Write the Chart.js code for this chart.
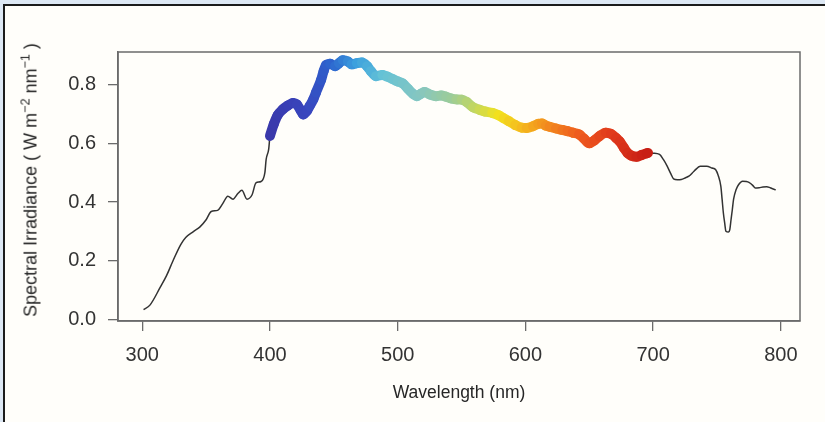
<!DOCTYPE html>
<html lang="en">
<head>
  <meta charset="UTF-8">
  <title>Spectral Irradiance</title>
  <script src="https://cdn.jsdelivr.net/npm/chart.js"></script>
  <style>
    html, body { margin: 0; overflow: hidden; }
    body { background: #dde8f4; font-family: 'Liberation Sans', Arial, Helvetica, sans-serif; width: 825px; height: 422px; position: relative; }
    /* Framed panel */
    .frame { position: absolute; left: 3px; top: 4px; right: 0; bottom: 0; border-left: 2px solid #1b1b1b; border-top: 2px solid #1b1b1b; background: #fffefa; }
    #chart { position: absolute; left: 0; top: 0; }
    .x-title { position: absolute; left: 118px; width: 682px; top: 382px; text-align: center; font-size: 17.5px; color: #262626; }
    .y-title { position: absolute; left: 30px; top: 180px; transform: translate(-50%, -50%) rotate(-90deg); white-space: nowrap; font-size: 18px; color: #262626; }
    .y-title sup { font-size: 0.7em; }
  </style>
</head>
<body>
  <div class="frame"></div>
  <canvas id="chart" width="825" height="422"></canvas>
  <div class="x-title">Wavelength (nm)</div>
  <div class="y-title">Spectral Irradiance ( W m<sup>−2</sup> nm<sup>−1</sup> )</div>

  <script>
    const wavelength = [301,306,314,319,324,330,334,340,345,350,354,359,363,367,371,375,378,382,386,389,393,396,397,399,
      400,403,406,410,414,418,421,424,426,429,431,434,436,440,442,444,447,451,454,457,461,464,468,472,476,479,483,488,492,496,
      500,504,508,512,515,518,521,525,530,534,538,542,546,550,554,559,564,568,574,579,583,587,592,597,
      601,606,610,613,616,619,624,629,633,637,642,646,650,654,658,663,667,671,674,677,680,683,687,691,695,696,
      700,705,708,711,714,716,719,722,725,728,732,737,742,746,749,751,753,754,755,756,757,759,760,761,762,763,765,767,770,773,775,778,780,783,786,789,791,793,795,796];
    const irradiance = [0.035,0.05,0.11,0.15,0.20,0.255,0.28,0.30,0.315,0.34,0.368,0.372,0.395,0.42,0.41,0.43,0.44,0.41,0.425,0.465,0.47,0.50,0.545,0.58,
      0.625,0.665,0.695,0.715,0.728,0.737,0.732,0.712,0.698,0.71,0.726,0.75,0.772,0.815,0.845,0.866,0.87,0.862,0.872,0.882,0.878,0.868,0.872,0.874,0.862,0.845,0.828,0.832,0.826,0.818,
      0.81,0.803,0.785,0.768,0.76,0.768,0.774,0.766,0.76,0.762,0.758,0.752,0.749,0.748,0.74,0.722,0.714,0.708,0.703,0.695,0.685,0.675,0.662,0.653,
      0.652,0.658,0.666,0.667,0.66,0.656,0.65,0.645,0.641,0.636,0.63,0.615,0.6,0.61,0.624,0.636,0.632,0.618,0.605,0.585,0.567,0.558,0.554,0.56,0.566,0.567,
      0.566,0.562,0.545,0.522,0.495,0.479,0.476,0.477,0.482,0.488,0.505,0.522,0.522,0.516,0.51,0.49,0.454,0.41,0.363,0.33,0.301,0.298,0.306,0.34,0.374,0.41,0.443,0.46,0.471,0.47,0.467,0.457,0.448,0.449,0.451,0.452,0.45,0.446,0.443,0.442];
    const visibleStart = 400, visibleEnd = 696;
    const xTicks = [300, 400, 500, 600, 700, 800];
    const yTicks = [0.0, 0.2, 0.4, 0.6, 0.8];

    // rainbow colour stops for the visible band
    const stops = [
      [400, [58, 56, 170]], [430, [56, 70, 190]], [450, [44, 100, 206]], [470, [60, 160, 222]],
      [490, [100, 194, 214]], [520, [134, 198, 192]], [545, [156, 204, 152]], [565, [200, 216, 88]],
      [580, [242, 226, 30]], [600, [245, 184, 30]], [620, [242, 138, 30]], [645, [238, 90, 30]],
      [670, [224, 58, 28]], [700, [196, 26, 20]]
    ];
    function wavelengthColor(nm) {
      if (nm <= stops[0][0]) return `rgb(${stops[0][1]})`;
      for (let i = 1; i < stops.length; i++) {
        const [w1, c1] = stops[i];
        const [w0, c0] = stops[i - 1];
        if (nm <= w1) {
          const t = (nm - w0) / (w1 - w0);
          const c = c0.map((v, k) => Math.round(v + (c1[k] - v) * t));
          return `rgb(${c})`;
        }
      }
      return `rgb(${stops[stops.length - 1][1]})`;
    }

    const allPoints = wavelength.map((w, i) => ({ x: w, y: irradiance[i] }));
    const visPoints = allPoints.filter(p => p.x >= visibleStart && p.x <= visibleEnd);

    // R-style box around the plot region
    const boxPlugin = {
      id: 'box',
      afterDraw(chart) {
        const { ctx, chartArea: a } = chart;
        ctx.save();
        ctx.strokeStyle = '#6b6b6b';
        ctx.lineWidth = 1.5;
        ctx.strokeRect(a.left, a.top, a.right - a.left, a.bottom - a.top);
        ctx.restore();
      }
    };

    const tickFont = { family: "'Liberation Sans', Arial, Helvetica, sans-serif", size: 20 };

    new Chart(document.getElementById('chart'), {
      type: 'line',
      data: {
        datasets: [
          {
            data: visPoints,
            borderWidth: 10,
            borderCapStyle: 'round',
            borderJoinStyle: 'round',
            borderColor: wavelengthColor(400),
            segment: { borderColor: c => wavelengthColor((c.p0.parsed.x + c.p1.parsed.x) / 2) },
            pointRadius: 0,
            cubicInterpolationMode: 'monotone'
          },
          {
            data: allPoints,
            borderWidth: 1.5,
            borderColor: '#333',
            pointRadius: 0,
            cubicInterpolationMode: 'monotone'
          }
        ]
      },
      options: {
        responsive: false,
        animation: false,
        layout: { padding: { top: 52, right: 25, left: 0, bottom: 0 } },
        plugins: { legend: { display: false }, tooltip: { enabled: false } },
        scales: {
          x: {
            type: 'linear', min: 281, max: 815,
            afterFit: s => { s.height = 101; },
            afterBuildTicks: s => { s.ticks = xTicks.map(v => ({ value: v })); },
            grid: { drawOnChartArea: false, drawTicks: true, tickLength: 10, color: '#6b6b6b', lineWidth: 1.3 },
            border: { display: true, color: '#6b6b6b', width: 1.5 },
            ticks: { font: tickFont, color: '#333', padding: 12, maxRotation: 0, callback: v => v }
          },
          y: {
            min: -0.004, max: 0.91,
            afterFit: s => { s.width = 118; },
            afterBuildTicks: s => { s.ticks = yTicks.map(v => ({ value: v })); },
            grid: { drawOnChartArea: false, drawTicks: true, tickLength: 10, color: '#6b6b6b', lineWidth: 1.3 },
            border: { display: true, color: '#6b6b6b', width: 1.5 },
            ticks: { font: tickFont, color: '#333', padding: 12, callback: v => v.toFixed(1) }
          }
        }
      },
      plugins: [boxPlugin]
    });
  </script>
</body>
</html>
